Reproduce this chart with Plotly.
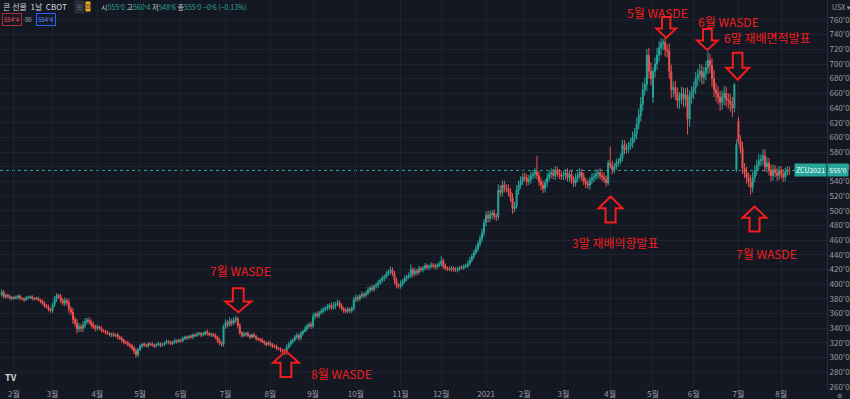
import pandas as pd
import plotly.graph_objects as go

# ---------------- data (CBOT corn, daily, US cents/bushel) ----------------
HOLIDAYS = ["2020-02-17", "2020-04-10", "2020-05-25", "2020-07-03", "2020-09-07",
            "2020-11-26", "2020-12-25", "2021-01-01", "2021-01-18", "2021-02-15",
            "2021-04-02", "2021-05-31", "2021-07-05"]

close_2020 = [
    389, 383, 385, 383, 381, 382,
    381, 382, 384, 381, 380, 379, 381, 382, 383, 381, 380, 381, 379, 377, 374, 371, 369, 366, 364,
    372, 380, 385, 383, 378, 374, 378, 375, 366, 362, 352, 347, 339, 342, 340, 344, 349, 351, 349, 345, 342, 340,
    342, 340, 337, 336, 334, 333, 331, 332, 330, 331, 328, 326, 324, 321, 320, 318, 316, 313, 309, 304, 311,
    316, 318, 317, 316, 319, 318, 317, 316, 318, 319, 317, 318, 320, 322, 321, 319, 321, 323, 322, 324,
    323, 326, 328, 327, 329, 328, 331, 330, 332, 333, 331, 332, 335, 333, 331, 332, 330, 328, 324, 320, 318, 342,
    348, 345, 350, 347, 351, 353, 344, 334, 330, 332, 333, 330, 328, 331, 329, 326, 325, 324, 322, 320, 318, 320,
    318, 316, 315, 313, 312, 310, 309, 307, 314, 318, 322, 324, 328, 330, 327, 333, 336, 339, 343, 345, 343,
    356, 359, 357, 361, 363, 366, 367, 369, 371, 368, 370, 373, 375, 371, 367, 365, 363, 366, 364, 367, 379,
    382, 380, 384, 386, 385, 388, 392, 395, 393, 397, 399, 402, 405, 408, 410, 414, 417, 419, 415, 405, 398, 397,
    401, 404, 408, 410, 412, 420, 414, 418, 416, 421, 420, 422, 425, 423, 424, 426, 425, 424, 426, 427,
    432, 425, 422, 421, 420, 422, 420, 419, 421, 423, 422, 424, 425, 428, 433, 438, 443, 448, 455, 462, 470, 484,
]
close_2021 = [
    494, 490, 495, 497, 493, 492, 528, 525, 535, 531, 530, 526, 518, 503, 507, 528, 535, 541, 546,
    545, 540, 543, 548, 550, 553, 548, 540, 535, 530, 538, 545, 550, 552, 548, 555, 551, 549, 547,
    548, 552, 545, 550, 542, 538, 545, 548, 552, 546, 540, 537, 535, 541, 545, 547, 550, 552, 548, 546, 543, 538, 565,
    562, 556, 560, 565, 567, 572, 590, 583, 585, 588, 592, 600, 605, 618, 630, 645, 665, 672, 712, 690, 680,
    690, 700, 712, 722, 728, 730, 720, 718, 690, 665, 668, 660, 650, 655, 660, 652, 658, 625, 655, 662,
    668, 680, 685, 690, 682, 688, 695, 705, 698, 680, 665, 660, 655, 648, 655, 660, 652, 650, 645, 640, 672, 590,
    595, 585, 558, 552, 545, 540, 532, 545, 555, 562, 568, 570, 575, 560, 565, 555, 548, 556, 552, 548, 555,
    550, 546, 553, 555.75, 555,
]
upper_wick_2020 = [
    4, 3, 2, 2, 3, 2,
    2, 3, 2, 2, 1, 2, 3, 2, 2, 2, 1, 2, 2, 1, 2, 3, 2, 3, 2,
    3, 4, 3, 2, 4, 3, 4, 3, 5, 4, 6, 4, 6, 5, 4, 6, 5, 3, 4, 3, 4, 3,
    3, 2, 3, 2, 2, 3, 2, 2, 3, 2, 3, 2, 3, 2, 2, 3, 2, 3, 3, 4, 2,
    2, 2, 3, 2, 2, 2, 3, 2, 2, 3, 2, 2, 2, 3, 2, 2, 2, 3, 2, 2,
    2, 3, 2, 2, 2, 3, 2, 2, 3, 2, 2, 3, 2, 3, 2, 2, 2, 3, 2, 3, 2, 3,
    4, 3, 5, 3, 4, 4, 3, 3, 2, 3, 2, 3, 2, 2, 3, 2, 2, 2, 3, 2, 2, 3,
    3, 2, 2, 3, 2, 2, 2, 3, 4, 3, 3, 2, 3, 4, 3, 3, 2, 4, 3, 3, 4,
    5, 3, 4, 3, 4, 3, 3, 4, 3, 4, 6, 3, 4, 3, 3, 2, 3, 3, 2, 3, 4,
    4, 3, 3, 4, 3, 3, 4, 3, 4, 3, 3, 4, 3, 4, 3, 4, 3, 5, 4, 3, 4, 3,
    4, 3, 4, 3, 4, 7, 3, 4, 3, 4, 3, 3, 4, 3, 3, 4, 3, 3, 3, 4,
    6, 3, 3, 2, 3, 3, 2, 3, 3, 2, 3, 3, 3, 4, 4, 3, 4, 5, 4, 5, 6, 5,
]
lower_wick_2020 = [
    3, 2, 3, 2, 2, 3,
    2, 2, 3, 2, 2, 3, 2, 2, 2, 3, 2, 2, 2, 3, 2, 3, 2, 3, 3,
    3, 3, 4, 3, 4, 3, 4, 4, 5, 4, 6, 5, 6, 4, 5, 5, 4, 3, 4, 4, 3, 4,
    3, 2, 3, 2, 3, 2, 2, 3, 2, 2, 3, 2, 3, 3, 2, 3, 3, 3, 4, 4, 3,
    2, 3, 2, 2, 3, 2, 2, 3, 2, 2, 3, 2, 2, 2, 3, 2, 2, 2, 3, 2,
    3, 2, 2, 3, 2, 2, 3, 2, 2, 2, 3, 2, 2, 3, 2, 3, 2, 3, 4, 3, 3, 3,
    3, 4, 3, 4, 3, 3, 4, 3, 3, 2, 3, 2, 3, 2, 2, 3, 2, 3, 2, 3, 3, 2,
    3, 3, 2, 3, 2, 3, 2, 3, 3, 2, 3, 3, 2, 3, 4, 3, 3, 2, 3, 3, 4,
    3, 4, 3, 3, 2, 3, 3, 3, 4, 3, 3, 4, 3, 4, 3, 4, 3, 2, 3, 3, 3,
    3, 4, 3, 3, 4, 3, 3, 4, 3, 3, 3, 4, 3, 3, 4, 3, 3, 4, 4, 5, 4, 3,
    3, 4, 3, 4, 3, 4, 5, 3, 4, 3, 3, 4, 3, 3, 4, 3, 3, 4, 3, 3,
    3, 4, 3, 3, 2, 3, 3, 2, 3, 3, 2, 3, 2, 3, 3, 3, 4, 3, 4, 4, 5, 5,
]
upper_wick_2021 = [
    5, 6, 5, 4, 5, 4, 8, 7, 6, 6, 5, 6, 5, 6, 5, 7, 6, 6, 5,
    6, 5, 6, 5, 6, 5, 22, 6, 5, 6, 5, 6, 5, 6, 5, 6, 5, 6, 5,
    6, 5, 6, 5, 6, 5, 6, 5, 6, 5, 6, 5, 6, 5, 6, 5, 6, 5, 6, 5, 6, 5, 4,
    22, 6, 5, 6, 5, 6, 7, 6, 7, 6, 7, 8, 8, 9, 9, 10, 10, 9, 8, 10, 12,
    5, 9, 10, 9, 7, 4, 8, 7, 10, 9, 8, 9, 8, 7, 9, 8, 9, 10, 9, 8,
    8, 9, 8, 10, 9, 8, 9, 12, 9, 10, 12, 9, 10, 8, 9, 10, 9, 8, 9, 10, 2, 7,
    6, 8, 9, 7, 8, 7, 9, 8, 7, 8, 9, 7, 8, 9, 8, 7, 8, 7, 6, 7, 6,
    6, 7, 6, 5, 5.5,
]
lower_wick_2021 = [
    5, 6, 5, 6, 5, 6, 4, 6, 5, 6, 5, 6, 6, 7, 5, 4, 6, 5, 6,
    5, 6, 5, 6, 5, 6, 5, 6, 7, 6, 5, 6, 5, 6, 5, 6, 5, 6, 5,
    5, 6, 5, 6, 5, 6, 5, 6, 5, 6, 5, 6, 5, 6, 5, 6, 5, 6, 5, 6, 5, 5, 3,
    4, 6, 5, 4, 5, 4, 5, 6, 5, 6, 5, 6, 7, 8, 7, 8, 9, 8, 9, 10, 9,
    8, 9, 8, 9, 10, 9, 10, 9, 10, 12, 10, 9, 10, 11, 10, 11, 10, 21, 10, 9,
    10, 9, 10, 9, 10, 9, 10, 9, 10, 11, 10, 11, 10, 12, 10, 11, 10, 11, 10, 12, 6, 3,
    5, 7, 8, 7, 8, 7, 10, 7, 6, 7, 6, 7, 8, 7, 8, 7, 8, 7, 6, 7, 6,
    6, 7, 6, 5, 6.25,
]
# opening prices that differ from the previous close (gaps / contract rolls)
gap_opens = {"2020-01-24": 386, "2021-05-03": 655, "2021-06-30": 556,
             "2021-07-01": 622, "2021-08-06": 555}

y_tick_values = list(range(260, 761, 20))

# ---------------- build table ----------------
days = pd.bdate_range("2020-01-24", "2021-08-06")
days = days[~days.isin(pd.to_datetime(HOLIDAYS))]
dates = [d.strftime("%Y-%m-%d") for d in days]

closes = close_2020 + close_2021
uw = upper_wick_2020 + upper_wick_2021
lw = lower_wick_2020 + lower_wick_2021
assert len(closes) == len(dates) == len(uw) == len(lw), (len(closes), len(dates), len(uw), len(lw))

opens = []
for i, d in enumerate(dates):
    opens.append(gap_opens[d] if d in gap_opens else closes[i - 1])
highs = [max(o, c) + w for o, c, w in zip(opens, closes, uw)]
lows = [min(o, c) - w for o, c, w in zip(opens, closes, lw)]
xpos = list(range(len(dates)))

tick_idx, tick_txt = [], []
prev = None
for i, d in enumerate(days):
    key = (d.year, d.month)
    if prev is not None and key != prev:
        tick_idx.append(i)
        tick_txt.append(str(d.year) if d.month == 1 else f"{d.month}월")
    prev = key

# ---------------- style ----------------
BG = "#141823"
GRID = "#1f2330"
UP = "#26a69a"
DOWN = "#ef5350"
RED = "#f21d1d"
AXIS_TXT = "#9a9ea8"
FONT = "Noto Sans CJK KR, Noto Sans, DejaVu Sans, sans-serif"

W, H = 850, 399
ML, MR, MT, MB = 0, 17, 0, 10
PW, PH = W - ML - MR, H - MT - MB
BAR_PX = 2.05
x_first_tick_px = 14
feb_idx = tick_idx[0]
x_left = feb_idx - x_first_tick_px / BAR_PX
x_right = x_left + PW / BAR_PX
y_top = 760 + 20 / 0.736
y_bot = 760 - (PH - 20) / 0.736


def px(x):
    return x / PW


def py(y):
    return 1 - y / PH


fig = go.Figure()
fig.add_trace(go.Candlestick(
    x=xpos, open=opens, high=highs, low=lows, close=closes, text=dates,
    increasing=dict(line=dict(color=UP, width=1), fillcolor=UP),
    decreasing=dict(line=dict(color=DOWN, width=1), fillcolor=DOWN),
    whiskerwidth=0, showlegend=False, hoverinfo="text+y",
))

shapes = [dict(type="line", xref="paper", yref="y", x0=0, x1=1, y0=closes[-1], y1=closes[-1],
               line=dict(color=UP, width=1, dash="dot"), layer="below")]


def arrow(cx, ytop, w, h, up):
    sw, hh = w * 0.42, h * 0.45
    if up:
        pts = [(cx, ytop), (cx + w / 2, ytop + hh), (cx + sw / 2, ytop + hh), (cx + sw / 2, ytop + h),
               (cx - sw / 2, ytop + h), (cx - sw / 2, ytop + hh), (cx - w / 2, ytop + hh)]
    else:
        pts = [(cx - sw / 2, ytop), (cx + sw / 2, ytop), (cx + sw / 2, ytop + h - hh), (cx + w / 2, ytop + h - hh),
               (cx, ytop + h), (cx - w / 2, ytop + h - hh), (cx - sw / 2, ytop + h - hh)]
    path = "M " + " L ".join(f"{px(a):.5f},{py(b):.5f}" for a, b in pts) + " Z"
    return dict(type="path", xref="paper", yref="paper", path=path,
                line=dict(color=RED, width=2), fillcolor="rgba(0,0,0,0)", layer="above")


arrows = [(671, 17, 20, 21, False), (712.5, 29, 21, 21, False), (743, 53, 23, 27, False),
          (615, 197, 24, 26, True), (240, 289, 26, 24, False), (288, 352, 26, 26, True),
          (760, 207, 24, 25, True)]
for a in arrows:
    shapes.append(arrow(*a))

ann = []
labels = [("5월 WASDE", 662, 13, "center"), ("6월 WASDE", 734, 22, "center"),
          ("6말 재배면적발표", 727, 38, "left"), ("3말 재배의향발표", 620, 243, "center"),
          ("7월 WASDE", 242, 271, "center"), ("8월 WASDE", 344, 374, "center"),
          ("7월 WASDE", 772, 254, "center")]
for t, x, y, anc in labels:
    ann.append(dict(text=t, xref="paper", yref="paper", x=px(x), y=py(y), xanchor=anc, yanchor="middle",
                    showarrow=False, font=dict(color=RED, size=12, family=FONT)))

# header
ann.append(dict(text="콘 선물  1날  CBOT", xref="paper", yref="paper", x=px(1), y=py(7),
                xanchor="left", yanchor="middle", showarrow=False,
                font=dict(color="#d1d4dc", size=8, family=FONT)))
ann.append(dict(text="≡", xref="paper", yref="paper", x=px(80), y=py(7), xanchor="center", yanchor="middle",
                showarrow=False, bgcolor="#2a2e39", borderpad=1, font=dict(color="#787b86", size=7, family=FONT)))
ann.append(dict(text="D", xref="paper", yref="paper", x=px(89), y=py(7), xanchor="center", yanchor="middle",
                showarrow=False, bgcolor="#f5a623", borderpad=0, font=dict(color="#2a2e39", size=6, family=FONT)))
g = "#c8cbd3"
ohlc = (f"<span style='color:{g}'>시</span>555'0 <span style='color:{g}'>고</span>560'4 "
        f"<span style='color:{g}'>저</span>548'6 <span style='color:{g}'>종</span>555'0 −0'6 (−0.13%)")
ann.append(dict(text=ohlc, xref="paper", yref="paper", x=px(100), y=py(7), xanchor="left", yanchor="middle",
                showarrow=False, font=dict(color=UP, size=7, family=FONT)))
ann.append(dict(text="554'4", xref="paper", yref="paper", x=px(12), y=py(20), xanchor="center", yanchor="middle",
                showarrow=False, bordercolor="#b22833", borderwidth=1, borderpad=1,
                font=dict(color=DOWN, size=6, family=FONT)))
ann.append(dict(text="00", xref="paper", yref="paper", x=px(29), y=py(20), xanchor="center", yanchor="middle",
                showarrow=False, font=dict(color="#b2b5be", size=6, family=FONT)))
ann.append(dict(text="554'4", xref="paper", yref="paper", x=px(46), y=py(20), xanchor="center", yanchor="middle",
                showarrow=False, bordercolor="#2962ff", borderwidth=1, borderpad=1,
                font=dict(color="#5b8cff", size=6, family=FONT)))
# price tags
ann.append(dict(text="ZCU2021", xref="paper", yref="y", x=1, y=closes[-1], xanchor="right", yanchor="middle",
                showarrow=False, bgcolor=UP, borderpad=1, font=dict(color="white", size=7, family=FONT)))
ann.append(dict(text="555'0", xref="paper", yref="y", x=1, y=closes[-1], xanchor="left", yanchor="middle",
                showarrow=False, bgcolor=UP, borderpad=1, font=dict(color="white", size=7, family=FONT)))
ann.append(dict(text="USX ▾", xref="paper", yref="paper", x=px(836), y=py(7), xanchor="left", yanchor="middle",
                showarrow=False, font=dict(color=AXIS_TXT, size=7, family=FONT)))
ann.append(dict(text="<b>TV</b>", xref="paper", yref="paper", x=px(3), y=py(378), xanchor="left",
                yanchor="middle", showarrow=False, font=dict(color="#d1d4dc", size=9, family=FONT)))
ann.append(dict(text="⚙", xref="paper", yref="paper", x=px(846), y=py(397), xanchor="center",
                yanchor="middle", showarrow=False, font=dict(color=AXIS_TXT, size=6, family=FONT)))

fig.update_layout(
    width=W, height=H, margin=dict(l=ML, r=MR, t=MT, b=MB),
    paper_bgcolor=BG, plot_bgcolor=BG, font=dict(family=FONT, color=AXIS_TXT, size=8),
    shapes=shapes, annotations=ann, showlegend=False, hovermode="x",
    xaxis=dict(range=[x_left, x_right], tickmode="array", tickvals=tick_idx, ticktext=tick_txt,
               showgrid=True, gridcolor=GRID, gridwidth=1, zeroline=False, showline=False,
               rangeslider=dict(visible=False), tickfont=dict(size=8, color=AXIS_TXT), ticks="",
               fixedrange=True),
    yaxis=dict(range=[y_bot, y_top], side="right", tickmode="array", tickvals=y_tick_values,
               ticktext=[f"{v}'0" for v in y_tick_values], showgrid=True, gridcolor=GRID, gridwidth=1,
               zeroline=False, showline=True, linecolor="#2a2e39", linewidth=1,
               tickfont=dict(size=8, color=AXIS_TXT), ticks="", fixedrange=True),
)

fig.write_html("out.html", config={"displayModeBar": False},
               post_script="document.body.style.margin='0';document.body.style.overflow='hidden';")
